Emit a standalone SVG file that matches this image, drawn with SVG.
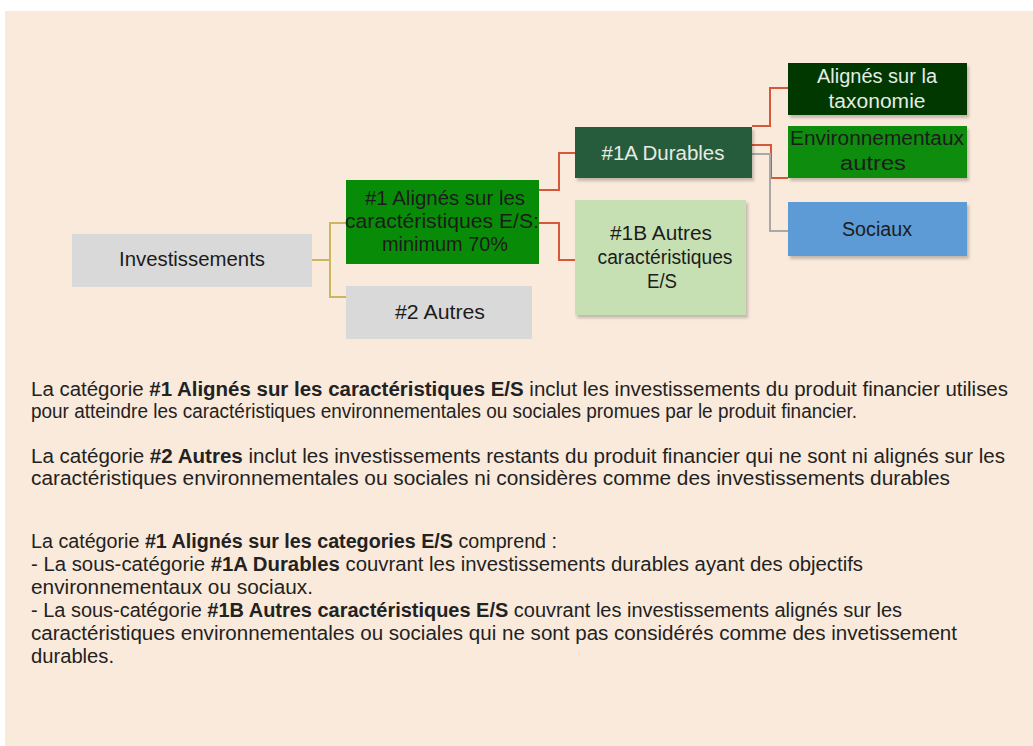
<svg xmlns="http://www.w3.org/2000/svg" width="1033" height="746" viewBox="0 0 1033 746">
<style>
text{font-family:"Liberation Sans",Arial,sans-serif;font-size:20px;fill:#1c1c1c}
.c{text-anchor:middle}
.lt{fill:#e6ebe4}
.p{font-size:20px;fill:#222}
.b{font-weight:bold}
.olive{stroke:#c9b65e;fill:none;stroke-width:2}
.red{stroke:#d5583a;fill:none;stroke-width:2}
.gry{stroke:#a8a8a8;fill:none;stroke-width:2}
</style>
<defs>
<filter id="sh" x="-10%" y="-10%" width="125%" height="130%">
<feDropShadow dx="2" dy="3" stdDeviation="1.5" flood-color="#000" flood-opacity="0.22"/>
</filter>
</defs>
<rect x="0" y="0" width="1033" height="746" fill="#ffffff"/>
<rect x="5" y="11" width="1028" height="735" fill="#faeadb"/>

<g id="connectors">
<path class="olive" d="M312,260 H330" stroke-width="3"/>
<path class="olive" d="M346,223 H330 V297 H346"/>
<path class="red" d="M539,190 H559 V153 H575"/>
<path class="red" d="M539,223 H559 V260 H575"/>
<path class="red" d="M752,126 H770 V88 H788"/>
<path class="red" d="M752,145 H771 V178 H788"/>
<path class="gry" d="M752,154 H770 V231 H788"/>
</g>

<g id="investissements">
<rect x="72" y="234" width="240" height="53" fill="#d9d9d9"/>
<text class="c" x="192" y="266" textLength="146" lengthAdjust="spacingAndGlyphs">Investissements</text>
</g>

<g id="n1">
<rect x="346" y="180" width="193" height="84" fill="#088c08"/>
<text class="c" x="445" y="205" textLength="160" lengthAdjust="spacingAndGlyphs">#1 Alignés sur les</text>
<text class="c" x="442" y="228" textLength="194" lengthAdjust="spacingAndGlyphs">caractéristiques E/S:</text>
<text class="c" x="445" y="251" textLength="126" lengthAdjust="spacingAndGlyphs">minimum 70%</text>
</g>

<g id="n2">
<rect x="346" y="286" width="186" height="53" fill="#d9d9d9"/>
<text class="c" x="440" y="319" textLength="90" lengthAdjust="spacingAndGlyphs">#2 Autres</text>
</g>

<g id="n1a">
<rect x="575" y="127" width="177" height="51" fill="#285b3b" filter="url(#sh)"/>
<text class="c lt" x="663" y="160" textLength="123" lengthAdjust="spacingAndGlyphs">#1A Durables</text>
</g>

<g id="n1b">
<rect x="575" y="200" width="171" height="115" fill="#c6e0b4" filter="url(#sh)"/>
<text class="c" x="661" y="240" textLength="102" lengthAdjust="spacingAndGlyphs">#1B Autres</text>
<text class="c" x="665" y="264" textLength="135" lengthAdjust="spacingAndGlyphs">caractéristiques</text>
<text class="c" x="662" y="288" textLength="30" lengthAdjust="spacingAndGlyphs">E/S</text>
</g>

<g id="taxonomie">
<rect x="788" y="63" width="179" height="52" fill="#043804" filter="url(#sh)"/>
<text class="c lt" x="877" y="83" textLength="120" lengthAdjust="spacingAndGlyphs">Alignés sur la</text>
<text class="c lt" x="877" y="108" textLength="97" lengthAdjust="spacingAndGlyphs">taxonomie</text>
</g>

<g id="env">
<rect x="788" y="126" width="179" height="52" fill="#088c08" filter="url(#sh)"/>
<text class="c" x="877" y="145" textLength="174" lengthAdjust="spacingAndGlyphs">Environnementaux</text>
<text class="c" x="873" y="170" textLength="66" lengthAdjust="spacingAndGlyphs">autres</text>
</g>

<g id="sociaux">
<rect x="788" y="202" width="179" height="54" fill="#5b9bd5" filter="url(#sh)"/>
<text class="c" x="877" y="236" textLength="70" lengthAdjust="spacingAndGlyphs">Sociaux</text>
</g>

<g id="notes">
<text class="p" x="31" y="396" textLength="977" lengthAdjust="spacingAndGlyphs">La catégorie <tspan class="b">#1 Alignés sur les caractéristiques E/S</tspan> inclut les investissements du produit financier utilises</text>
<text class="p" x="31" y="418" textLength="826" lengthAdjust="spacingAndGlyphs">pour atteindre les caractéristiques environnementales ou sociales promues par le produit financier.</text>
<text class="p" x="31" y="463" textLength="974" lengthAdjust="spacingAndGlyphs">La catégorie <tspan class="b">#2 Autres</tspan> inclut les investissements restants du produit financier qui ne sont ni alignés sur les</text>
<text class="p" x="31" y="485" textLength="919" lengthAdjust="spacingAndGlyphs">caractéristiques environnementales ou sociales ni considères comme des investissements durables</text>
<text class="p" x="31" y="548" textLength="526" lengthAdjust="spacingAndGlyphs">La catégorie <tspan class="b">#1 Alignés sur les categories E/S</tspan> comprend :</text>
<text class="p" x="31" y="571" textLength="832" lengthAdjust="spacingAndGlyphs">- La sous-catégorie <tspan class="b">#1A Durables</tspan> couvrant les investissements durables ayant des objectifs</text>
<text class="p" x="31" y="594" textLength="282" lengthAdjust="spacingAndGlyphs">environnementaux ou sociaux.</text>
<text class="p" x="31" y="617" textLength="871" lengthAdjust="spacingAndGlyphs">- La sous-catégorie <tspan class="b">#1B Autres caractéristiques E/S</tspan> couvrant les investissements alignés sur les</text>
<text class="p" x="31" y="640" textLength="926" lengthAdjust="spacingAndGlyphs">caractéristiques environnementales ou sociales qui ne sont pas considérés comme des invetissement</text>
<text class="p" x="31" y="663" textLength="83" lengthAdjust="spacingAndGlyphs">durables.</text>
</g>
</svg>
